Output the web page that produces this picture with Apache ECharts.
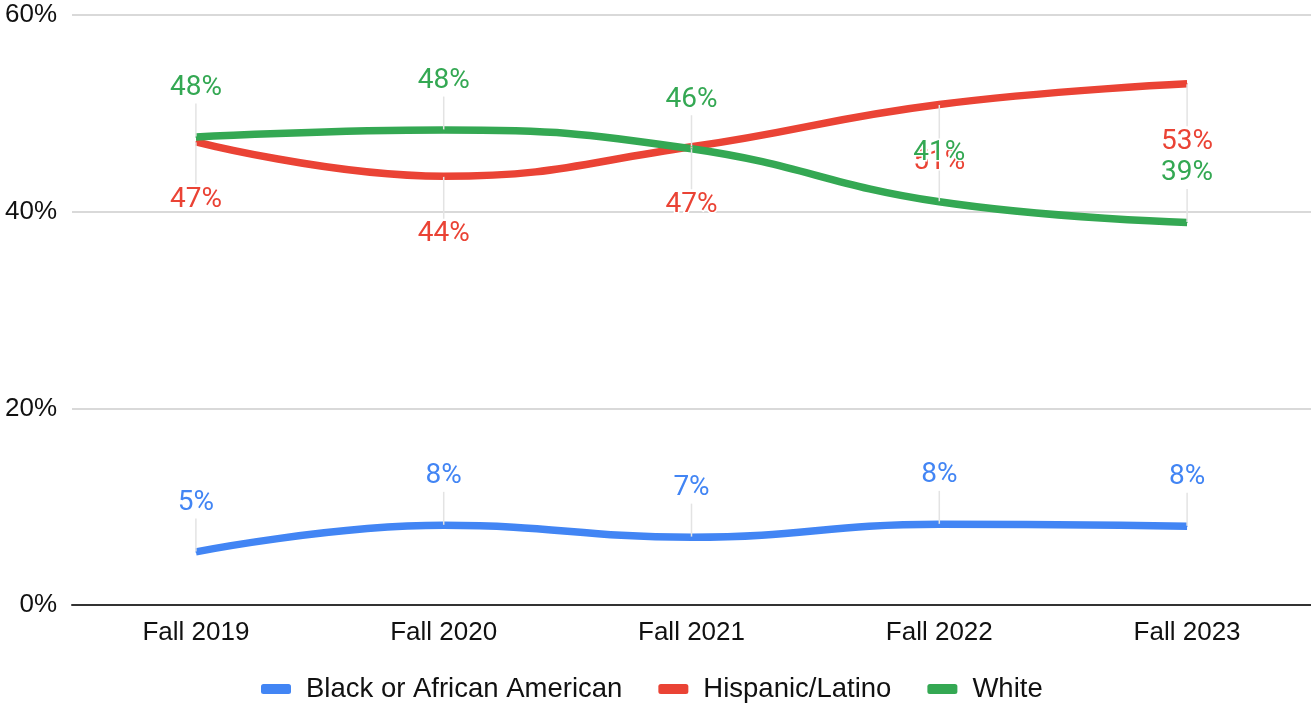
<!DOCTYPE html>
<html>
<head>
<meta charset="utf-8">
<script src="https://cdn.jsdelivr.net/npm/echarts@6/dist/echarts.min.js"></script>
<style>
  html, body { margin: 0; padding: 0; background: #fff; }
  #chart { width: 1311px; height: 705px; }
</style>
</head>
<body>
<div id="chart"></div>
<script>
const categories = ["Fall 2019", "Fall 2020", "Fall 2021", "Fall 2022", "Fall 2023"];
const blackValues = [5.4, 8.1, 6.9, 8.2, 8.0];
const hispanicValues = [47.1, 43.6, 46.6, 50.9, 53.0];
const whiteValues = [47.6, 48.3, 46.4, 41.0, 38.9];
const yTicks = [0, 20, 40, 60];

const chart = echarts.init(document.getElementById("chart"));

function makeSeries(name, data, color, dy) {
  return {
    name: name,
    type: "line",
    data: data,
    smooth: 0.45,
    symbol: "circle",
    symbolSize: 1,
    showSymbol: true,
    itemStyle: { color: color },
    lineStyle: { color: color, width: 7.5 },
    label: {
      show: true,
      position: "inside",
      color: color,
      fontFamily: "Roboto",
      fontSize: 28,
      textBorderColor: "#fff",
      textBorderWidth: 3,
      formatter: (p) => Math.round(p.value) + "%",
    },
    labelLayout: { dy: dy },
    labelLine: {
      show: true,
      lineStyle: { color: "#e3e3e3", width: 1.5 },
    },
  };
}

const option = {
  backgroundColor: "#fff",
  animation: false,
  textStyle: { fontFamily: "Liberation Sans" },
  grid: { left: 72, right: 0, top: 15, bottom: 100 },
  xAxis: {
    type: "category",
    data: categories,
    boundaryGap: true,
    axisLine: { show: true, lineStyle: { color: "#333", width: 2 } },
    axisTick: { show: false },
    axisLabel: { color: "#111", fontSize: 26, margin: 15 },
  },
  yAxis: {
    type: "value",
    min: yTicks[0],
    max: yTicks[yTicks.length - 1],
    interval: 20,
    axisLine: { show: false },
    axisTick: { show: false },
    axisLabel: { color: "#111", fontSize: 26, margin: 15, formatter: "{value}%" },
    splitLine: { lineStyle: { color: "#ccc", width: 1.5 } },
  },
  legend: {
    bottom: -3,
    left: 256,
    itemWidth: 30,
    itemHeight: 10,
    itemGap: 36,
    icon: "roundRect",
    textStyle: { color: "#111", fontSize: 27.5, padding: [0, 0, 0, 10] },
    data: ["Black or African American", "Hispanic/Latino", "White"],
  },
  series: [
    makeSeries("Black or African American", blackValues, "#4285F4", -49),
    makeSeries("Hispanic/Latino", hispanicValues, "#EA4335", 58),
    makeSeries("White", whiteValues, "#34A853", -49),
  ],
};

chart.setOption(option);
</script>
</body>
</html>
